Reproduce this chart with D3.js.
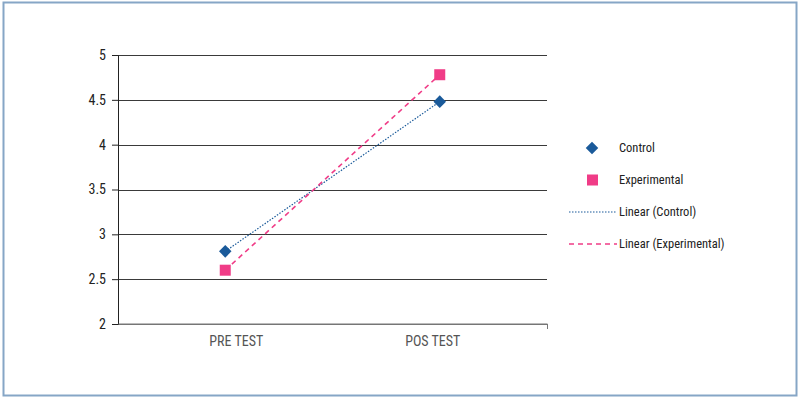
<html>
<head>
<meta charset="UTF-8">
<script src="https://d3js.org/d3.v7.min.js"></script>
<style>
  body { margin: 0; background: #fff; }
  text { font-family: "Roboto Condensed", Roboto, sans-serif; font-stretch: condensed; }
</style>
</head>
<body>
<svg id="chart" width="801" height="412"></svg>
<script>
// data
const categories = ['PRE TEST', 'POS TEST'];
const controlValues = [2.81, 4.48];
const experimentalValues = [2.60, 4.78];
const yTicks = [2, 2.5, 3, 3.5, 4, 4.5, 5];
const legendLabels = ['Control', 'Experimental', 'Linear (Control)', 'Linear (Experimental)'];

const blue = '#1a5a9a';
const pink = '#f03c87';
const fontCss = '"Roboto Condensed", Roboto, sans-serif';

const svg = d3.select('#chart');

// outer frame
svg.append('rect')
   .attr('x', 3.5).attr('y', 2.5)
   .attr('width', 793).attr('height', 393)
   .attr('fill', 'none')
   .attr('stroke', '#86a6c6')
   .attr('stroke-width', 2);

const margin = {top: 55, left: 118, right: 254, bottom: 88};
const plotW = 801 - margin.left - margin.right;
const plotH = 412 - margin.top - margin.bottom;

const x = d3.scaleBand().domain(categories).range([0, plotW]);
const y = d3.scaleLinear().domain([2, 5]).range([plotH, 0]);

const g = svg.append('g').attr('transform', `translate(${margin.left},${margin.top})`);

// gridlines
g.append('g')
 .selectAll('line')
 .data(yTicks)
 .join('line')
 .attr('x1', 0).attr('x2', plotW)
 .attr('y1', d => Math.round(y(d)) + 0.5)
 .attr('y2', d => Math.round(y(d)) + 0.5)
 .attr('stroke', d => d === 2 ? '#777' : '#3a3a3a')
 .attr('stroke-width', 1);

// y axis
const yAxis = g.append('g')
 .call(d3.axisLeft(y).tickValues(yTicks).tickSize(6).tickPadding(6).tickFormat(d3.format('')));
yAxis.select('.domain').attr('stroke', '#222');
yAxis.selectAll('.tick line').attr('stroke', '#222');
yAxis.selectAll('.tick text').attr('font-size', 14).attr('fill', '#222')
     .style('font-family', fontCss);

// x axis (labels sit a little inward of the band centres, as in the original)
const xAxis = g.append('g')
 .attr('transform', `translate(0,${plotH})`)
 .call(d3.axisBottom(x).tickSize(0).tickPadding(12));
xAxis.select('.domain').attr('stroke', '#777').attr('d', `M0.5,0H${plotW}.5V5`);
xAxis.selectAll('.tick text').attr('font-size', 14).attr('fill', '#555')
     .attr('dx', (d, i) => i === 0 ? 11 : -7)
     .style('font-family', fontCss);

const cx = d => x(d) + x.bandwidth() / 2;

// trend lines (linear fit through two points)
const line = d3.line().x((d, i) => cx(categories[i])).y(d => y(d));

g.append('path')
 .datum(controlValues)
 .attr('d', line)
 .attr('fill', 'none')
 .attr('stroke', blue)
 .attr('stroke-width', 1.2)
 .attr('stroke-dasharray', '1.5,1.5');

g.append('path')
 .datum(experimentalValues)
 .attr('d', line)
 .attr('fill', 'none')
 .attr('stroke', pink)
 .attr('stroke-width', 1.6)
 .attr('stroke-dasharray', '5,4');

// markers
const diamond = d3.symbol().type(d3.symbolDiamond2).size(100);
g.selectAll('path.control')
 .data(controlValues)
 .join('path')
 .attr('class', 'control')
 .attr('d', diamond)
 .attr('transform', (d, i) => `translate(${cx(categories[i])},${y(d)})`)
 .attr('fill', blue);

g.selectAll('rect.exp')
 .data(experimentalValues)
 .join('rect')
 .attr('class', 'exp')
 .attr('x', (d, i) => cx(categories[i]) - 5.5)
 .attr('y', d => y(d) - 5.5)
 .attr('width', 11).attr('height', 11)
 .attr('fill', pink);

// legend
const legend = svg.append('g').attr('transform', 'translate(569,148)');
const rowH = 32;
legendLabels.forEach((lab, i) => {
  const row = legend.append('g').attr('transform', `translate(0,${i * rowH})`);
  if (i === 0) {
    row.append('path').attr('d', diamond).attr('transform', 'translate(23,0)').attr('fill', blue);
  } else if (i === 1) {
    row.append('rect').attr('x', 18).attr('y', -5.5).attr('width', 11).attr('height', 11).attr('fill', pink);
  } else if (i === 2) {
    row.append('line').attr('x1', 0).attr('x2', 48).attr('y1', 0).attr('y2', 0)
       .attr('stroke', blue).attr('stroke-width', 1.2).attr('stroke-dasharray', '1.5,1.5');
  } else {
    row.append('line').attr('x1', 0).attr('x2', 48).attr('y1', 0).attr('y2', 0)
       .attr('stroke', pink).attr('stroke-width', 1.6).attr('stroke-dasharray', '5,4');
  }
  row.append('text')
     .attr('x', 50).attr('y', 0).attr('dy', '0.35em')
     .attr('font-size', 12.5).attr('fill', '#222')
     .text(lab);
});
</script>
</body>
</html>
